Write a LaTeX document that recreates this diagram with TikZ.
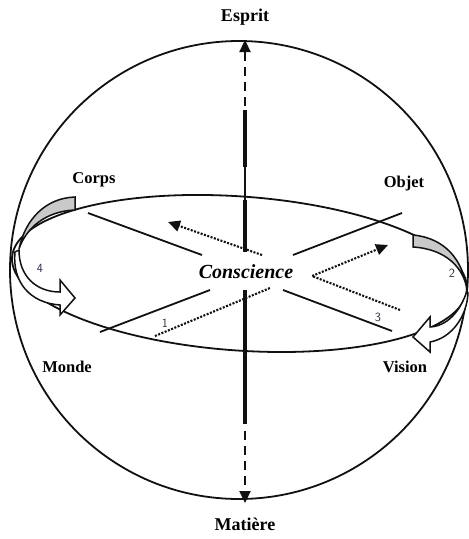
\documentclass[tikz,border=0pt]{standalone}
\usepackage{fontspec}
\setmainfont{Liberation Serif}
\usetikzlibrary{arrows.meta}
\definecolor{sink}{HTML}{111111}
\definecolor{sgry}{HTML}{C9C9C9}
\definecolor{snum}{HTML}{23304A}
\tikzset{
  pole/.style   ={font=\fontsize{18}{21}\selectfont\bfseries, inner sep=1pt},
  lbl/.style    ={font=\fontsize{16.5}{19}\selectfont\bfseries, inner sep=1pt},
  core/.style   ={font=\fontsize{20}{24}\selectfont\bfseries\itshape, inner sep=1pt},
  num/.style    ={font=\fontsize{12.5}{14}\selectfont\sffamily, text=snum, inner sep=0pt},
  rim/.style    ={draw=sink, line width=1.8pt},
  xline/.style  ={draw=sink, line width=1.8pt},
  spine/.style  ={draw=sink, line width=3.8pt},
  spthin/.style ={draw=sink, line width=1.4pt},
  spdash/.style ={draw=sink, line width=2.3pt, dash pattern=on 9pt off 6pt,
                  -{Triangle[length=12pt,width=11pt]}},
  walk/.style   ={draw=sink, line width=2.1pt, dash pattern=on 2pt off 1.5pt},
  walkarr/.style={walk, -{Triangle[length=12pt,width=11pt]}},
  back/.style   ={draw=sink, line width=1.5pt, fill=sgry},
  front/.style  ={draw=sink, line width=1.5pt, fill=white},
}

\begin{document}
\begin{tikzpicture}[x=1pt, y=-1pt]
  \useasboundingbox (0,0) rectangle (469,539);
  % sphere and equator
  \coordinate (ctr) at (239,270);
  \coordinate (eq) at (239.5,273.5);
  \draw[rim] (ctr) circle [radius=229];
  \draw[rim, rotate around={-4.1:(eq)}] (eq) ellipse [x radius=228, y radius=77];

  % poles
  \node[pole] (esprit) at (245,17) {Esprit};
  \node[pole] (matiere) at (245,524) {Matière};
  \coordinate (ntip) at (245,40);
  \coordinate (stip) at (245,503);

  % quadrants
  \node[lbl] (corps) at (94,180) {Corps};
  \node[lbl] (objet) at (404,184) {Objet};
  \node[lbl] (monde) at (67,367) {Monde};
  \node[lbl] (vision) at (405,367) {Vision};
  \node[core] (consc) at (246,272) {Conscience};

  % the X on the equator
  \coordinate (ulo) at (88,213);  \coordinate (uli) at (202,255);
  \coordinate (uro) at (402,213); \coordinate (uri) at (293,255);
  \coordinate (llo) at (100,332); \coordinate (lli) at (210,290);
  \coordinate (lro) at (392,331); \coordinate (lri) at (283,290);
  \draw[xline] (ulo) -- (uli);
  \draw[xline] (uro) -- (uri);
  \draw[xline] (llo) -- (lli);
  \draw[xline] (lro) -- (lri);

  % vertical axis
  \coordinate (n1) at (245,106); \coordinate (n2) at (245,110);
  \coordinate (n3) at (245,167); \coordinate (n4) at (245,200);
  \coordinate (n5) at (245,252);
  \coordinate (s1) at (245,290); \coordinate (s2) at (245,424);
  \coordinate (s3) at (245,431);
  \draw[spdash] (n1) -- (ntip);
  \draw[spine] (n2) -- (n3);
  \draw[spthin] (n3) -- (n4);
  \draw[spine] (n4) -- (n5);
  \draw[spine] (s1) -- (s2);
  \draw[spdash] (s3) -- (stip);

  % dotted walk 1-2-3-4
  \coordinate (w1a) at (155,336); \coordinate (w1b) at (270,288);
  \coordinate (w2a) at (312,276); \coordinate (w2b) at (388,245);
  \coordinate (w3a) at (400,310);
  \coordinate (w4a) at (262,255); \coordinate (w4b) at (168,222);
  \draw[walk] (w1a) -- (w1b);
  \draw[walkarr] (w3a) -- (w2a) -- (w2b);
  \draw[walkarr] (w4a) -- (w4b);

  % turning arrows round the equator
  \draw[back] (75,197) .. controls (45,198) and (25,220) .. (19,249)
              .. controls (26,228) and (46,211) .. (75,210) -- cycle;
  \draw[front] (19,250) .. controls (19,276) and (36,292) .. (60,292) -- (60,280) -- (75,298)
               -- (60,315) -- (60,305) .. controls (30,303) and (12,282) .. (15,252) -- cycle;
  \draw[back] (413,235) .. controls (445,238) and (463,260) .. (467,290)
              .. controls (464,268) and (446,249) .. (413,247) -- cycle;
  \draw[front] (467,291) .. controls (460,312) and (447,326) .. (430,327) -- (430,317) -- (413,337)
               -- (430,352) -- (430,342) .. controls (452,338) and (467,316) .. (468,293) -- cycle;

  % step numbers
  \node[num] (k1) at (165,323) {1};
  \node[num] (k2) at (452,273) {2};
  \node[num] (k3) at (378,317) {3};
  \node[num] (k4) at (40,268) {4};
\end{tikzpicture}
\end{document}
